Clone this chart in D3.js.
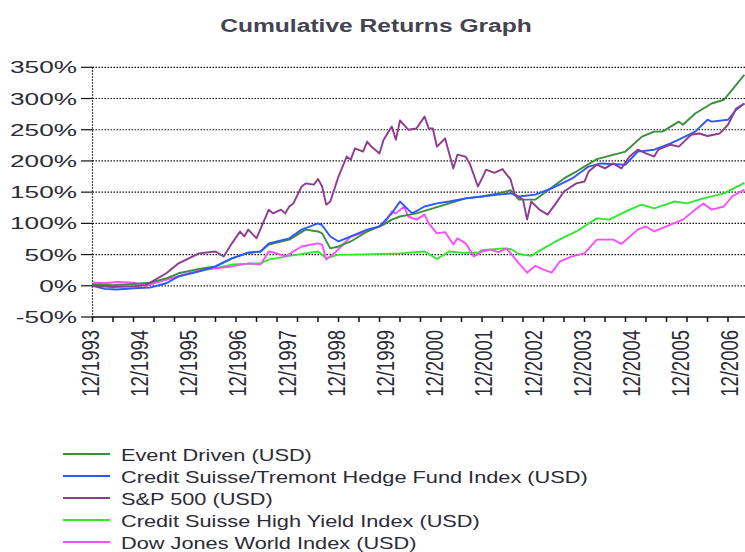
<!DOCTYPE html>
<html>
<head>
<meta charset="utf-8">
<script src="https://cdn.jsdelivr.net/npm/d3@7"></script>
<style>
  html, body { margin: 0; padding: 0; background: #fff; }
  svg { display: block; }
  text { font-family: "Liberation Sans", Arial, sans-serif; fill: #2b2b36; }
</style>
</head>
<body>
<svg id="chart" width="745" height="552"></svg>
<script>
// ---------------- DATA (month index since 12/1993, cumulative return %) ----------------
const title = "Cumulative Returns Graph";
const yTicks = [-50, 0, 50, 100, 150, 200, 250, 300, 350];
const xTickLabels = ["12/1993","12/1994","12/1995","12/1996","12/1997","12/1998","12/1999",
                     "12/2000","12/2001","12/2002","12/2003","12/2004","12/2005","12/2006"];
const seriesNames = ["Event Driven (USD)", "Credit Suisse/Tremont Hedge Fund Index (USD)",
                     "S&P 500 (USD)", "Credit Suisse High Yield Index (USD)", "Dow Jones World Index (USD)"];

const eventDriven = [[0,2],[5,1],[10,3],[14,5],[18,12],[21,20],[26,27],[30,31],[34,44],[38,53],[41,55],
  [43,66],[48,74],[52,90],[55,87],[56,84],[58,60],[60,63],[63,71],[67,87],[71,98],[73,106],[75,111],
  [79,116],[83,124],[87,132],[91,140],[95,143],[99,148],[102,153],[104,138],[108,138],[110,148],
  [115,172],[118,183],[123,203],[126,208],[130,215],[134,239],[137,247],[139,247],[143,263],[144,258],
  [147,276],[151,292],[154,298],[156,314],[159,338]];

const hedgeIndex = [[0,0],[3,-5],[6,-6],[10,-4],[14,-3],[18,4],[21,15],[26,23],[30,31],[34,44],[38,53],
  [41,55],[43,68],[48,76],[51,90],[55,100],[56,97],[58,79],[60,71],[63,79],[67,90],[70,95],[73,116],
  [75,135],[77,122],[78,116],[81,127],[84,132],[87,135],[91,140],[95,143],[99,146],[102,148],[104,143],
  [108,146],[112,156],[117,172],[121,191],[124,196],[130,194],[133,215],[137,218],[141,228],[143,234],
  [147,247],[150,266],[151,263],[155,266],[157,282],[159,292]];

const sp500 = [[0,0],[5,-2],[10,-1],[13,1],[18,20],[21,36],[26,52],[30,55],[32,47],[34,68],[36,87],
  [37,79],[38,90],[40,76],[43,122],[44,116],[46,122],[47,116],[48,127],[49,132],[51,159],[52,164],
  [54,162],[55,171],[56,159],[57,130],[58,135],[60,175],[62,207],[63,202],[64,220],[66,215],[67,231],
  [68,223],[70,212],[71,234],[73,255],[74,234],[75,265],[77,250],[79,252],[81,271],[82,252],[83,252],
  [84,223],[86,236],[88,188],[89,210],[91,207],[92,196],[94,159],[95,172],[96,186],[98,181],[100,187],
  [102,170],[103,146],[105,138],[106,106],[107,135],[109,122],[111,114],[113,132],[115,151],[118,164],
  [120,167],[121,183],[123,194],[125,188],[127,196],[129,188],[131,207],[133,218],[135,212],[137,207],
  [138,218],[141,226],[143,223],[146,242],[148,244],[150,240],[153,244],[155,258],[157,284],[159,292]];

const highYield = [[0,2],[5,0],[10,2],[14,4],[18,10],[26,23],[34,34],[41,36],[43,42],[48,48],[55,55],
  [57,44],[60,50],[63,50],[71,51],[75,52],[81,55],[84,43],[87,55],[90,53],[94,53],[95,57],[100,60],
  [102,59],[104,51],[107,48],[110,60],[113,71],[118,87],[123,108],[126,106],[131,122],[134,130],
  [137,124],[142,135],[145,132],[149,140],[154,148],[159,165]];

const dowWorld = [[0,5],[3,4],[6,6],[10,5],[13,0],[18,10],[26,25],[34,31],[38,36],[41,34],[43,55],
  [45,52],[47,47],[51,63],[55,68],[56,66],[57,42],[59,52],[63,79],[67,87],[71,98],[73,119],[74,116],
  [76,127],[77,111],[79,106],[81,114],[82,100],[84,84],[86,86],[88,66],[89,76],[91,68],[93,47],[95,55],
  [97,58],[99,54],[101,60],[102,52],[104,36],[106,21],[108,32],[110,26],[112,21],[114,39],[117,47],
  [120,52],[123,74],[127,74],[129,67],[133,90],[135,95],[137,87],[141,98],[144,106],[147,122],
  [149,132],[151,122],[154,127],[156,143],[159,154]];

const seriesData = [eventDriven, hedgeIndex, sp500, highYield, dowWorld];
const seriesColors = ["#3a8f3a", "#2f57ff", "#8e3b90", "#2fe82f", "#ff4cff"];

// ---------------- LAYOUT ----------------
const svg = d3.select("#chart");
const W = 745, H = 552;
const plot = { left: 92.5, right: 745, top: 67.3, bottom: 317 };

const x = d3.scaleLinear().domain([0, 159]).range([plot.left, plot.left + 159 * 4.1]);
const y = d3.scaleLinear().domain([-50, 350]).range([plot.bottom, plot.top]);

function measure(str, size, weight) {
  const t = svg.append("text").attr("font-size", size).attr("font-weight", weight || "normal").text(str);
  const w = t.node().getComputedTextLength();
  t.remove();
  return w;
}

// Title
const titleSize = 18;
const titleScale = 312 / measure(title, titleSize, "bold");
svg.append("text")
  .attr("transform", `translate(376,32) scale(${titleScale},1)`)
  .attr("text-anchor", "middle")
  .attr("font-size", titleSize)
  .attr("font-weight", "bold")
  .style("fill", "#444450")
  .text(title);

// Gridlines (dotted)
const grid = svg.append("g");
grid.selectAll("line.h")
  .data(yTicks.filter(d => d > -50))
  .join("line")
  .attr("x1", plot.left).attr("x2", plot.right)
  .attr("y1", d => y(d)).attr("y2", d => y(d))
  .attr("stroke", "#111").attr("stroke-width", 1.2).attr("stroke-dasharray", "1.5,1.5");
grid.append("line")
  .attr("x1", plot.left).attr("x2", plot.left)
  .attr("y1", y(350)).attr("y2", plot.bottom)
  .attr("stroke", "#111").attr("stroke-width", 1.2).attr("stroke-dasharray", "1.5,1.5");

// Y axis ticks and labels
const yLabelSize = 17;
const yScaleFactor = 67 / measure("350%", yLabelSize);
const yAxis = svg.append("g");
yAxis.selectAll("line")
  .data(yTicks).join("line")
  .attr("x1", 81).attr("x2", plot.left)
  .attr("y1", d => y(d)).attr("y2", d => y(d))
  .attr("stroke", "#111").attr("stroke-width", 1.2);
yAxis.selectAll("text")
  .data(yTicks).join("text")
  .attr("transform", d => `translate(77,${y(d)}) scale(${yScaleFactor},1)`)
  .attr("text-anchor", "end")
  .attr("dy", "0.36em")
  .attr("font-size", yLabelSize)
  .text(d => d + "%");

// X axis line and ticks (every 5 months)
const xAxis = svg.append("g");
xAxis.append("line")
  .attr("x1", plot.left).attr("x2", plot.right)
  .attr("y1", plot.bottom).attr("y2", plot.bottom)
  .attr("stroke", "#111").attr("stroke-width", 1.5);
xAxis.selectAll("line.tick")
  .data(d3.range(0, 160, 5)).join("line")
  .attr("class", "tick")
  .attr("x1", d => x(d)).attr("x2", d => x(d))
  .attr("y1", plot.bottom).attr("y2", plot.bottom + 5)
  .attr("stroke", "#111").attr("stroke-width", 1.5);

const xLabelSize = 18.5;
xAxis.selectAll("text")
  .data(xTickLabels).join("text")
  .attr("transform", (d, i) => `translate(${x(i * 12) - 2},330) scale(1.25,1) rotate(-90)`)
  .attr("text-anchor", "end")
  .attr("dy", "0.36em")
  .attr("font-size", xLabelSize)
  .text(d => d);

// Lines
svg.append("clipPath").attr("id", "clip")
  .append("rect").attr("x", plot.left).attr("y", 0).attr("width", plot.right - plot.left).attr("height", plot.bottom);

const line = d3.line().x(d => x(d[0])).y(d => y(d[1]));
const drawOrder = [3, 4, 0, 1, 2];
svg.append("g").attr("clip-path", "url(#clip)")
  .selectAll("path")
  .data(drawOrder).join("path")
  .attr("d", i => line(seriesData[i]))
  .attr("fill", "none")
  .attr("stroke", i => seriesColors[i])
  .attr("stroke-width", 1.9)
  .attr("stroke-linejoin", "round");

// Legend
const legendSize = 16;
const legendScale = 191 / measure(seriesNames[0], legendSize);
const legend = svg.append("g");
const lg = legend.selectAll("g")
  .data(seriesNames).join("g")
  .attr("transform", (d, i) => `translate(0,${454 + i * 22})`);
lg.append("line")
  .attr("x1", 63).attr("x2", 110).attr("y1", 0).attr("y2", 0)
  .attr("stroke", (d, i) => seriesColors[i]).attr("stroke-width", 1.8);
lg.append("text")
  .attr("transform", `translate(121,7) scale(${legendScale},1)`)
  .attr("font-size", legendSize)
  .text(d => d);
</script>
</body>
</html>
